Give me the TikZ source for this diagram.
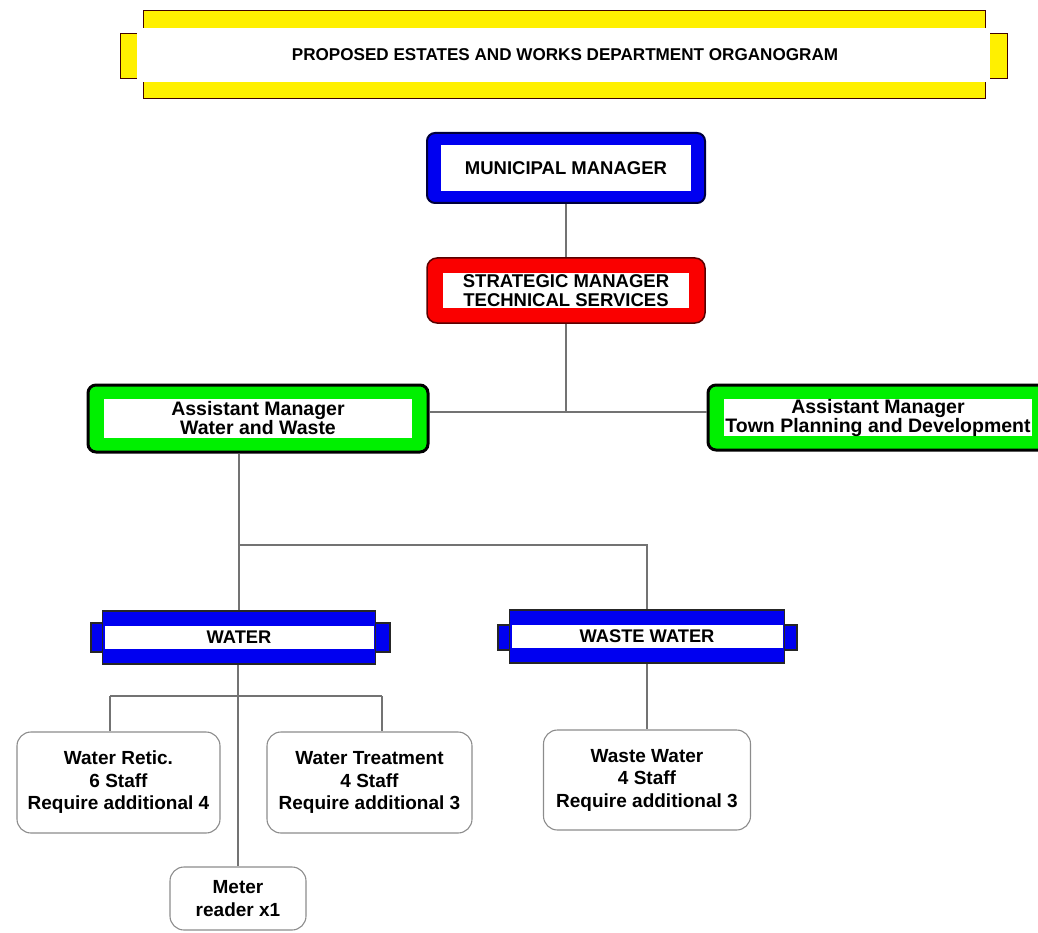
\documentclass[tikz,border=0pt]{standalone}
\usepackage{fontspec}
\setmainfont{Liberation Sans}
\begin{document}
\begin{tikzpicture}[x=1pt,y=-1pt,
  inset/.style 2 args={path picture={\fill[white,sharp corners]
      ([xshift=#1,yshift=-#2]path picture bounding box.north west) rectangle
      ([xshift=-#1,yshift=#2]path picture bounding box.south east);}},
  panel/.style={rounded corners=8pt, inner sep=0pt, align=center,
      font=\bfseries\fontsize{18.5}{18.5}\selectfont},
  bluepanel/.style={panel, fill={rgb,255:red,0;green,0;blue,240}, draw={rgb,255:red,0;green,0;blue,60}, line width=2pt},
  redpanel/.style={panel, fill={rgb,255:red,250;green,0;blue,0}, draw={rgb,255:red,90;green,0;blue,0}, line width=1.5pt, rounded corners=10pt},
  greenpanel/.style={panel, fill={rgb,255:red,0;green,240;blue,0}, draw=black, line width=3pt,
      font=\bfseries\fontsize{19.5}{19}\selectfont},
  bar/.style={draw=black!85, line width=1.2pt, fill={rgb,255:red,0;green,0;blue,240}},
  barbox/.style={bar, inner sep=0pt, font=\bfseries\fontsize{18.3}{18.3}\selectfont},
  unit/.style={draw=black!45, line width=1.1pt, rounded corners=14pt, align=center, inner sep=0pt,
      font=\bfseries\fontsize{19}{22.5}\selectfont},
  link/.style={draw=black!55, line width=1.1pt}]
\useasboundingbox (0,0) rectangle (1038,933);
\begin{scope}
\clip (0,0) rectangle (1038,933);

% title banner with side tabs
\filldraw[fill={rgb,255:red,255;green,240;blue,0}, draw=black!75!red, line width=0.9pt]
  (120,33) rectangle (1007,78);
\filldraw[fill={rgb,255:red,255;green,240;blue,0}, draw=black!75!red, line width=0.9pt]
  (143,10) rectangle (985,98);
\fill[white] (137,28) rectangle (990,82);
\node[font=\bfseries\fontsize{17.1}{17}\selectfont] (title) at (565,55)
  {PROPOSED ESTATES AND WORKS DEPARTMENT ORGANOGRAM};

% management levels
\node[bluepanel, inset={14pt}{12pt}, minimum width=278pt, minimum height=70pt] (mm) at (566,168)
  {MUNICIPAL MANAGER};
\node[redpanel, inset={16pt}{15pt}, minimum width=278pt, minimum height=65pt] (sm) at (566,290.5)
  {STRATEGIC MANAGER\\TECHNICAL SERVICES};
\node[greenpanel, inset={16pt}{14pt}, minimum width=340pt, minimum height=67pt] (amw) at (258,418.5)
  {Assistant Manager\\Water and Waste};
\node[greenpanel, inset={16pt}{14pt}, minimum width=340pt, minimum height=65pt] (amt) at (878,417.5)
  {Assistant Manager\\Town Planning and Development};

% section bars with side tabs
\filldraw[bar] (91,623) rectangle (390,652);
\node[barbox, inset={2pt}{15pt}, minimum width=273pt, minimum height=53pt] (water) at (239,637.5) {WATER};
\filldraw[bar] (498,625) rectangle (797,650);
\node[barbox, inset={2pt}{15pt}, minimum width=275pt, minimum height=53pt] (waste) at (647,636.5) {WASTE WATER};

% staff units
\node[unit, minimum width=203pt, minimum height=101pt] (retic) at (118.5,782.5)
  {Water Retic.\\6 Staff\\Require additional 4};
\node[unit, minimum width=205pt, minimum height=101pt] (treat) at (369.5,782.5)
  {Water Treatment\\4 Staff\\Require additional 3};
\node[unit, minimum width=207pt, minimum height=100pt] (wwunit) at (647,780)
  {Waste Water\\4 Staff\\Require additional 3};
\node[unit, minimum width=136pt, minimum height=63pt] (meter) at (238,898.5)
  {Meter\\reader x1};

% junction points
\coordinate (j1) at (566,412);
\coordinate (j2) at (239,545);
\coordinate (rt) at (110,696);
\coordinate (tt) at (382,696);

% connectors
\draw[link] (mm) -- (sm);
\draw[link] (sm) -- (j1);
\draw[link] (amw.east |- j1) -- (amt.west |- j1);
\draw[link] (water.north |- amw.south) -- (water.north);
\draw[link] (j2) -- (waste.north |- j2) -- (waste.north);
\draw[link] (meter.north |- water.south) -- (meter.north);
\draw[link] (rt) -- (tt);
\draw[link] (rt) -- (rt |- retic.north);
\draw[link] (tt) -- (tt |- treat.north);
\draw[link] (waste.south) -- (wwunit.north);
\end{scope}
\end{tikzpicture}
\end{document}
